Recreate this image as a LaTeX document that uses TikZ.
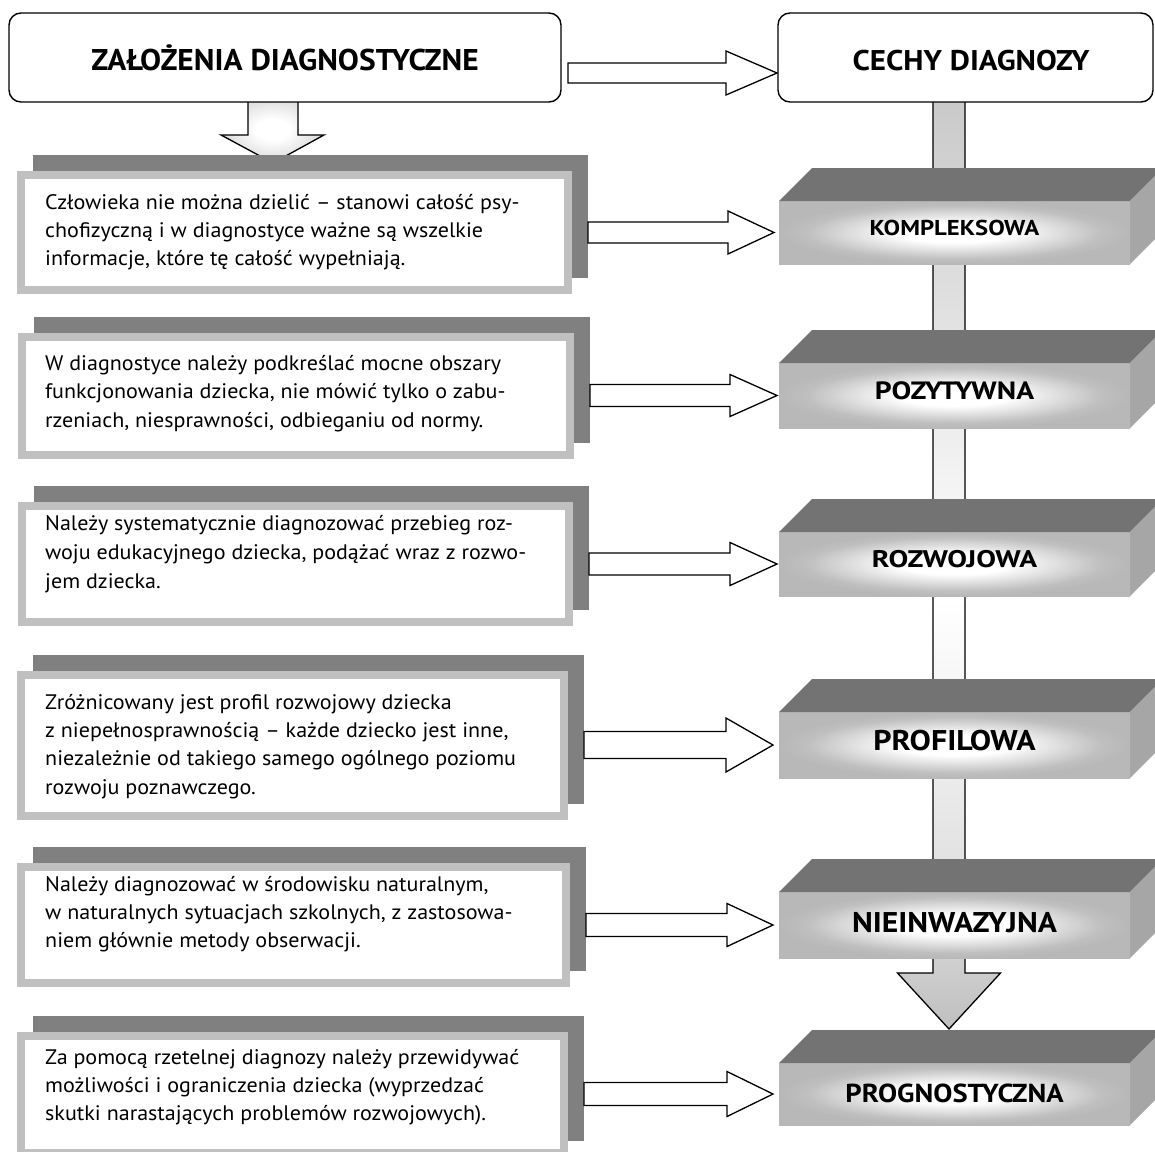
\documentclass[tikz,border=0pt]{standalone}
\usepackage{fontspec}
\usepackage{graphicx}
\setmainfont{PT Sans}
\usetikzlibrary{calc}
\definecolor{shadowgray}{HTML}{808080}
\definecolor{bordergray}{HTML}{C0C0C0}
\definecolor{topgray}{HTML}{737373}
\definecolor{sidegray}{HTML}{A6A6A6}
\pgfdeclareradialshading{glow}{\pgfpoint{0bp}{0bp}}{color(0bp)=(white); color(8bp)=(white); color(21bp)=(black!25); color(25bp)=(black!28); color(50bp)=(black!28)}
\pgfdeclareverticalshading{spine}{100bp}{color(0bp)=(black!25); color(25bp)=(black!25); color(32bp)=(black!13); color(48bp)=(white); color(56bp)=(black!6); color(75bp)=(black!21); color(100bp)=(black!21)}
\pgfdeclareradialshading{downglow}{\pgfpoint{0bp}{0bp}}{color(0bp)=(white); color(8bp)=(white); color(25bp)=(black!15); color(50bp)=(black!15)}
\newcommand\hfat[5]{\draw[fatarrow] let \p1=(#1), \p2=(#2) in
  (\x1,\y2+#3pt) -- (\x2-#5pt,\y2+#3pt) -- (\x2-#5pt,\y2+#4pt) -- (\x2,\y2)
  -- (\x2-#5pt,\y2-#4pt) -- (\x2-#5pt,\y2-#3pt) -- (\x1,\y2-#3pt) -- cycle;}
\newcommand\bt[1]{\scalebox{1.05}[1]{#1}}
\begin{document}
\begin{tikzpicture}[x=1pt,y=-1pt,
  fatarrow/.style={draw=black, line width=1.3pt, fill=white, line join=miter},
  titlebox/.style={draw=black, line width=1.4pt, rounded corners=12pt, fill=white, inner sep=0pt},
  shadowbox/.style={fill=shadowgray, inner sep=0pt, outer sep=0pt},
  frontbox/.style={draw=bordergray, line width=8pt, fill=white, inner sep=0pt, outer sep=0pt},
  face/.style={shading=glow, inner sep=0pt, outer sep=0pt, minimum width=351pt},
  bodytext/.style={anchor=base west, inner sep=0pt, font=\fontsize{21}{28}\selectfont},
  titletext/.style={anchor=base, inner sep=0pt},
  facetext/.style={anchor=base, inner sep=0pt}]
\useasboundingbox (0,0) rectangle (1155,1151);
\fill[white] (0,0) rectangle (1155,1151);

% spine arrow (right column)
\coordinate (sptop) at (949,96);
\coordinate (sptip) at (949,1029);
\draw[draw=black, line width=1.3pt, shading=spine] let \p1=(sptop), \p2=(sptip) in
  (\x1-16pt,\y1) -- (\x1-16pt,\y2+56pt) -- (\x1-51.5pt,\y2+56pt) -- (\x2,\y2)
  -- (\x1+51.5pt,\y2+56pt) -- (\x1+16pt,\y2+56pt) -- (\x1+16pt,\y1) -- cycle;

% down arrow (left column)
\coordinate (dtop) at (273,96);
\coordinate (dtip) at (273,163);
\draw[draw=black, line width=1.3pt, shading=downglow] let \p1=(dtop), \p2=(dtip) in
  (\x1-25pt,\y1) -- (\x1-25pt,\y2+28pt) -- (\x1-52pt,\y2+28pt) -- (\x2,\y2)
  -- (\x1+51pt,\y2+28pt) -- (\x1+25pt,\y2+28pt) -- (\x1+25pt,\y1) -- cycle;

% title boxes
\node[titlebox, minimum width=552pt, minimum height=89pt] (zal) at (285,57.5) {};
\node[titlebox, minimum width=375pt, minimum height=89pt] (cechy) at (965.5,57.5) {};
\node[titletext, font=\bfseries\fontsize{30}{36}\selectfont] (zalt) at (285,70) {\scalebox{1.05}[1]{ZAŁOŻENIA DIAGNOSTYCZNE}};
\node[titletext, font=\bfseries\fontsize{28.5}{34}\selectfont] (cechyt) at (971,70) {\scalebox{1.09}[1]{CECHY DIAGNOZY}};
\coordinate (ta) at (568,73);
\coordinate (tb) at (777,73);
\hfat{ta}{tb}{10}{22}{51}

% left boxes: shadow + front
\node[shadowbox, minimum width=555pt, minimum height=123pt] (s1) at (310.5,216.5) {};
\node[frontbox, minimum width=547pt, minimum height=115pt] (b1) at (294.5,232.5) {};
\node[shadowbox, minimum width=556pt, minimum height=126pt] (s2) at (312,380) {};
\node[frontbox, minimum width=548pt, minimum height=118pt] (b2) at (296,396) {};
\node[shadowbox, minimum width=555pt, minimum height=124pt] (s3) at (311.5,548) {};
\node[frontbox, minimum width=547pt, minimum height=116pt] (b3) at (295.5,564) {};
\node[shadowbox, minimum width=551pt, minimum height=149pt] (s4) at (308.5,729.5) {};
\node[frontbox, minimum width=543pt, minimum height=141pt] (b4) at (292.5,745.5) {};
\node[shadowbox, minimum width=553pt, minimum height=124pt] (s5) at (309.5,909) {};
\node[frontbox, minimum width=545pt, minimum height=116pt] (b5) at (293.5,925) {};
\node[shadowbox, minimum width=551pt, minimum height=125pt] (s6) at (308.5,1078.5) {};
\node[frontbox, minimum width=543pt, minimum height=117pt] (b6) at (292.5,1094.5) {};

% left texts
\node[bodytext] (t1a) at (45,209) {\bt{Człowieka nie można dzielić – stanowi całość psy-}};
\node[bodytext] (t1b) at (45,237) {\bt{chofizyczną i w diagnostyce ważne są wszelkie}};
\node[bodytext] (t1c) at (45,265) {\bt{informacje, które tę całość wypełniają.}};
\node[bodytext] (t2a) at (45,370) {\bt{W diagnostyce należy podkreślać mocne obszary}};
\node[bodytext] (t2b) at (45,398) {\bt{funkcjonowania dziecka, nie mówić tylko o zabu-}};
\node[bodytext] (t2c) at (45,427) {\bt{rzeniach, niesprawności, odbieganiu od normy.}};
\node[bodytext] (t3a) at (45,530) {\bt{Należy systematycznie diagnozować przebieg roz-}};
\node[bodytext] (t3b) at (45,559) {\bt{woju edukacyjnego dziecka, podążać wraz z rozwo-}};
\node[bodytext] (t3c) at (45,588) {\bt{jem dziecka.}};
\node[bodytext] (t4a) at (45,709) {\bt{Zróżnicowany jest profil rozwojowy dziecka}};
\node[bodytext] (t4b) at (45,737) {\bt{z niepełnosprawnością – każde dziecko jest inne,}};
\node[bodytext] (t4c) at (45,765) {\bt{niezależnie od takiego samego ogólnego poziomu}};
\node[bodytext] (t4d) at (45,794) {\bt{rozwoju poznawczego.}};
\node[bodytext] (t5a) at (45,891) {\bt{Należy diagnozować w środowisku naturalnym,}};
\node[bodytext] (t5b) at (45,919) {\bt{w naturalnych sytuacjach szkolnych, z zastosowa-}};
\node[bodytext] (t5c) at (45,947) {\bt{niem głównie metody obserwacji.}};
\node[bodytext] (t6a) at (45,1064) {\bt{Za pomocą rzetelnej diagnozy należy przewidywać}};
\node[bodytext] (t6b) at (45,1092) {\bt{możliwości i ograniczenia dziecka (wyprzedzać}};
\node[bodytext] (t6c) at (45,1120) {\bt{skutki narastających problemów rozwojowych).}};

% right 3D boxes
\foreach \n/\cy/\h in {1/232.5/63, 2/395.5/65, 3/564/64, 4/745/66, 5/925/66, 6/1094/62}{
  \node[face, minimum height=\h pt] (r\n) at (954.5,\cy) {};
  \fill[topgray] (r\n.north west) -- ++(33,-33) -- ($(r\n.north east)+(33,-33)$) -- (r\n.north east) -- cycle;
  \fill[sidegray] (r\n.north east) -- ++(33,-33) -- ($(r\n.south east)+(33,-33)$) -- (r\n.south east) -- cycle;
}
\node[facetext, font=\bfseries\fontsize{21.5}{28}\selectfont] (l1) at (954.5,235) {\scalebox{1.15}[1]{KOMPLEKSOWA}};
\node[facetext, font=\bfseries\fontsize{25}{28}\selectfont] (l2) at (954.5,399) {\scalebox{1.18}[1]{POZYTYWNA}};
\node[facetext, font=\bfseries\fontsize{24}{28}\selectfont] (l3) at (954.5,567) {\scalebox{1.23}[1]{ROZWOJOWA}};
\node[facetext, font=\bfseries\fontsize{28.5}{32}\selectfont] (l4) at (954.5,750) {\scalebox{1.12}[1]{PROFILOWA}};
\node[facetext, font=\bfseries\fontsize{28.5}{32}\selectfont] (l5) at (954.5,932) {\scalebox{1.11}[1]{NIEINWAZYJNA}};
\node[facetext, font=\bfseries\fontsize{26}{30}\selectfont] (l6) at (954.5,1102) {\scalebox{1.10}[1]{PROGNOSTYCZNA}};

% connecting arrows left -> right
\hfat{s1.east}{$(r1.west)+(-5,0)$}{10.5}{21.5}{46}
\hfat{s2.east}{$(r2.west)+(-2,0)$}{11}{21}{47}
\hfat{s3.east}{$(r3.west)+(-2,0)$}{11}{21.5}{47}
\hfat{s4.east}{$(r4.west)+(-6,0)$}{13.5}{27}{47}
\hfat{s5.east}{$(r5.west)+(-6,0)$}{11.5}{21.5}{46}
\hfat{s6.east}{$(r6.west)+(-6,0)$}{11.5}{22.5}{46}
\end{tikzpicture}
\end{document}
